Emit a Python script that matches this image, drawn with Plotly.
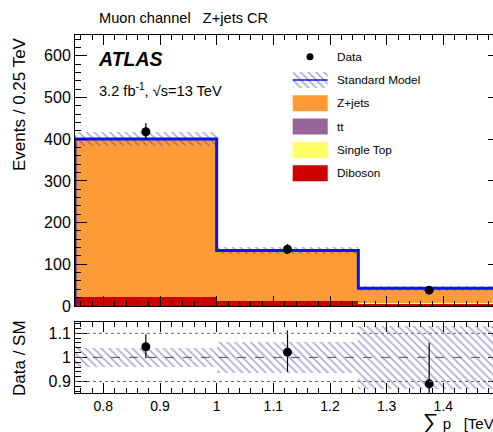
import numpy as np
import plotly.graph_objects as go

# ---------------- data ----------------
bin_edges = [0.75, 1.0, 1.25, 1.5]
data_counts = [418.0, 136.0, 38.0]
data_err_up = [21.0, 12.0, 7.3]
data_err_down = [19.0, 11.0, 6.1]
zjets = [378.0, 120.0, 36.0]
ttbar = [1.0, 0.8, 0.5]
single_top = [0.4, 0.3, 0.2]
diboson = [21.0, 12.0, 6.0]
sm_rel_unc = [0.04, 0.065, 0.13]

legend_labels = ["Data", "Standard Model", "Z+jets", "tt", "Single Top", "Diboson"]

# ---------------- derived ----------------
edges = np.array(bin_edges)
centers = 0.5 * (edges[:-1] + edges[1:])
widths = np.diff(edges)
dib = np.array(diboson)
c_st = dib + np.array(single_top)
c_tt = c_st + np.array(ttbar)
sm = c_tt + np.array(zjets)
unc = sm * np.array(sm_rel_unc)
data = np.array(data_counts)
ratio = data / sm
r_up = np.array(data_err_up) / sm
r_dn = np.array(data_err_down) / sm
rel = np.array(sm_rel_unc)

C_ORANGE = "#FF9B35"
C_PURPLE = "#976597"
C_YELLOW = "#FFFF66"
C_RED = "#CC0000"
C_BLUE = "#0A14F0"
HATCH = "rgba(75,75,170,0.95)"
FONT = "Liberation Sans, Arial, Helvetica, sans-serif"

W, H = 505, 432
L, R, T, B = 75, 5, 35, 39
PW, PH = W - L - R, H - T - B


def px(x):
    return (x - L) / PW


def py(y):
    return (H - B - y) / PH


main_dom = [py(306), 1.0]
ratio_dom = [0.0, py(322)]

fig = go.Figure()

pattern = dict(shape="\\", fgcolor=HATCH, size=5.5, solidity=0.3)

# stacked components (overlay of cumulative sums)
for vals, col, name in [(sm, C_ORANGE, "Z+jets"), (c_tt, C_PURPLE, "tt"),
                        (c_st, C_YELLOW, "Single Top"), (dib, C_RED, "Diboson")]:
    fig.add_trace(go.Bar(x=centers, y=vals, width=widths, marker=dict(color=col, line=dict(width=0)),
                         name=name, showlegend=False, xaxis="x", yaxis="y"))

# SM uncertainty band (main)
fig.add_trace(go.Bar(x=centers, y=2 * unc, base=sm - unc, width=widths,
                     marker=dict(color="rgba(0,0,0,0)", line=dict(width=0), pattern=pattern),
                     showlegend=False, xaxis="x", yaxis="y"))

# SM outline
xs = np.repeat(edges, 2)
ys = np.concatenate([[0], np.repeat(sm, 2), [0]])
fig.add_trace(go.Scatter(x=xs, y=ys, mode="lines", line=dict(color=C_BLUE, width=3),
                         showlegend=False, xaxis="x", yaxis="y"))

# data
fig.add_trace(go.Scatter(x=centers, y=data, mode="markers",
                         marker=dict(color="black", size=9),
                         error_y=dict(type="data", symmetric=False, array=data_err_up,
                                      arrayminus=data_err_down, color="black", thickness=1.2, width=0),
                         showlegend=False, xaxis="x", yaxis="y"))

# ratio band
fig.add_trace(go.Bar(x=centers, y=2 * rel, base=1 - rel, width=widths,
                     marker=dict(color="rgba(0,0,0,0)", line=dict(width=0), pattern=pattern),
                     showlegend=False, xaxis="x2", yaxis="y2"))

# ratio data
fig.add_trace(go.Scatter(x=centers, y=ratio, mode="markers",
                         marker=dict(color="black", size=9),
                         error_y=dict(type="data", symmetric=False, array=r_up, arrayminus=r_dn,
                                      color="black", thickness=1.2, width=0),
                         showlegend=False, xaxis="x2", yaxis="y2", cliponaxis=True))

# legend hatch swatch (own tiny axes)
fig.add_trace(go.Bar(x=[0], y=[1], width=[1],
                     marker=dict(color="rgba(0,0,0,0)", line=dict(width=0), pattern=pattern),
                     showlegend=False, xaxis="x3", yaxis="y3"))

axis_common = dict(showline=True, linecolor="black", linewidth=1, mirror="ticks", ticks="inside",
                   tickcolor="black", tickwidth=1, showgrid=False, zeroline=False,
                   tickfont=dict(family=FONT, size=16, color="black"))

fig.update_layout(
    width=W, height=H,
    margin=dict(l=L, r=R, t=T, b=B, pad=0),
    paper_bgcolor="white", plot_bgcolor="white",
    barmode="overlay", bargap=0,
    font=dict(family=FONT, color="black"),
    showlegend=False,
    xaxis=dict(axis_common, domain=[0, 1], range=[0.75, 1.5], anchor="y", tick0=0.8, dtick=0.1,
               ticklen=10, minor=dict(ticks="inside", dtick=0.02, tick0=0.8, ticklen=5, tickcolor="black"),
               showticklabels=False),
    yaxis=dict(axis_common, domain=main_dom, range=[0, 650], anchor="x", dtick=100, ticklen=12,
               minor=dict(ticks="inside", dtick=20, ticklen=6, tickcolor="black")),
    xaxis2=dict(axis_common, domain=[0, 1], range=[0.75, 1.5], anchor="y2", tick0=0.8, dtick=0.1,
                ticklen=10, minor=dict(ticks="inside", dtick=0.02, tick0=0.8, ticklen=5, tickcolor="black"),
                tickfont=dict(family=FONT, size=14, color="black")),
    yaxis2=dict(axis_common, domain=ratio_dom, range=[0.852, 1.147], anchor="x2", tick0=0.9, dtick=0.1,
                ticklen=12, minor=dict(ticks="inside", dtick=0.02, tick0=0.9, ticklen=6, tickcolor="black")),
    xaxis3=dict(domain=[px(292.7), px(327.7)], range=[-0.5, 0.5], anchor="y3", visible=False, fixedrange=True),
    yaxis3=dict(domain=[py(88), py(72)], range=[0, 1], anchor="x3", visible=False, fixedrange=True),
)

shapes = []
# ratio reference lines
for yv, dash, col in [(1.1, "dot", "#666666"), (0.9, "dot", "#666666"), (1.0, "dash", "#555555")]:
    shapes.append(dict(type="line", xref="x2 domain", yref="y2", x0=0, x1=1, y0=yv, y1=yv,
                       line=dict(color=col, width=1, dash=dash), layer="above"))

# legend
row_y0, row_dy = 56.7, 23.3
box_x0, box_x1 = 292.7, 327.7
fills = [None, None, C_ORANGE, C_PURPLE, C_YELLOW, C_RED]
annotations = []
for i, lab in enumerate(legend_labels):
    yc = row_y0 + i * row_dy
    if i == 0:
        shapes.append(dict(type="circle", xref="paper", yref="paper",
                           x0=px(306.5), x1=px(313.5), y0=py(yc + 3.5), y1=py(yc - 3.5),
                           fillcolor="black", line=dict(width=0)))
    elif i == 1:
        shapes.append(dict(type="line", xref="paper", yref="paper", x0=px(box_x0), x1=px(box_x1),
                           y0=py(yc), y1=py(yc), line=dict(color=C_BLUE, width=1.5)))
    else:
        shapes.append(dict(type="rect", xref="paper", yref="paper", x0=px(box_x0), x1=px(box_x1),
                           y0=py(yc + 8), y1=py(yc - 8), fillcolor=fills[i], line=dict(width=0)))
    annotations.append(dict(text=lab, xref="paper", yref="paper", x=px(335), y=py(yc),
                            xanchor="left", yanchor="middle", showarrow=False,
                            font=dict(family=FONT, size=11.8, color="black")))

xtitle = '<span style="font-size:22px">∑</span> p\u00a0\u00a0\u00a0[TeV]'
annotations += [
    dict(text="Muon channel\u00a0\u00a0\u00a0Z+jets CR", xref="paper", yref="paper", x=px(97), y=py(18),
         xanchor="left", yanchor="middle", showarrow=False, font=dict(family=FONT, size=14.6)),
    dict(text="<b><i>ATLAS</i></b>", xref="paper", yref="paper", x=px(96), y=py(58.5),
         xanchor="left", yanchor="middle", showarrow=False, font=dict(family=FONT, size=19.5)),
    dict(text="3.2 fb<sup>-1</sup>, √s=13 TeV", xref="paper", yref="paper", x=px(97), y=py(90),
         xanchor="left", yanchor="middle", showarrow=False, font=dict(family=FONT, size=14.6)),
    dict(text="Events / 0.25 TeV", xref="paper", yref="paper", x=px(19), y=1.0, textangle=-90,
         xanchor="center", yanchor="top", showarrow=False, font=dict(family=FONT, size=17)),
    dict(text="Data / SM", xref="paper", yref="paper", x=px(19), y=py(358), textangle=-90,
         xanchor="center", yanchor="middle", showarrow=False, font=dict(family=FONT, size=17)),
    dict(text=xtitle, xref="paper", yref="paper",
         x=1.0, y=py(421), xanchor="right", yanchor="middle", showarrow=False,
         font=dict(family=FONT, size=15)),
    dict(text=xtitle, xref="paper", yref="paper",
         x=1.0, y=py(-12), xanchor="right", yanchor="middle", showarrow=False,
         font=dict(family=FONT, size=15)),
]

fig.update_layout(shapes=shapes, annotations=annotations)

fig.write_html("out.html", config={"displayModeBar": False},
               post_script="document.body.style.margin='0';document.body.style.overflow='hidden';")
